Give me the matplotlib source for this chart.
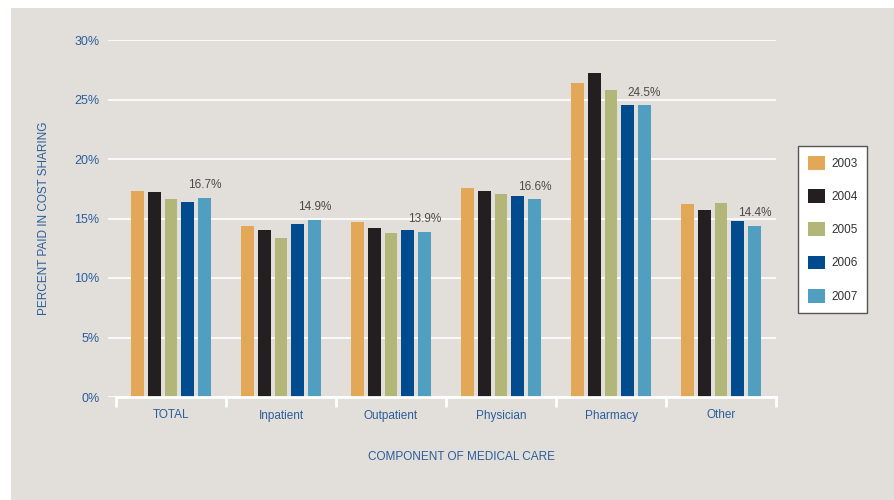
import numpy as np
import matplotlib.pyplot as plt
from matplotlib.patches import Patch, Rectangle

# cost sharing share by component and year (%)
components = ["TOTAL", "Inpatient", "Outpatient", "Physician", "Pharmacy", "Other"]
years = ["2003", "2004", "2005", "2006", "2007"]
v2003 = [17.3, 14.4, 14.7, 17.6, 26.4, 16.2]
v2004 = [17.2, 14.0, 14.2, 17.3, 27.2, 15.7]
v2005 = [16.6, 13.4, 13.8, 17.05, 25.8, 16.3]
v2006 = [16.4, 14.5, 14.0, 16.9, 24.5, 14.8]
v2007 = [16.7, 14.9, 13.9, 16.6, 24.5, 14.4]
series = [v2003, v2004, v2005, v2006, v2007]
colors = ["#E3A857", "#231F20", "#B2B679", "#004B8D", "#519FC0"]

plt.rcParams['font.family'] = ['Liberation Sans', 'DejaVu Sans']
blue_txt = "#2B5D9B"
bg = "#E2DFDB"

fig = plt.figure(figsize=(8.94, 5.0), dpi=100)
fig.patch.set_facecolor("white")
fig.patches.append(Rectangle((11 / 894, 0), 1, 1 - 8 / 500, transform=fig.transFigure,
                             facecolor=bg, edgecolor="none", zorder=-10))

ax = fig.add_axes([108 / 894, 103 / 500, 668 / 894, 357 / 500])
ax.set_facecolor("none")

x = np.arange(len(components))
step = 0.152
width = 0.114
for i, (vals, c) in enumerate(zip(series, colors)):
    ax.bar(x + (i - 2) * step, vals, width, color=c, zorder=3)

# value labels above the 2007 bars
for xi, v in zip(x, v2007):
    ax.annotate(f"{v:.1f}%", (xi + 2 * step, v), xytext=(0, 5), textcoords="offset points",
                ha="center", va="bottom", fontsize=8.5, color="#4A4A4A")

ax.set_xlim(-0.573, 5.5)
ax.set_ylim(0, 30)
ax.set_yticks(np.arange(0, 31, 5))
ax.set_yticklabels([f"{t}%" for t in range(0, 31, 5)])
ax.grid(axis="y", color="white", linewidth=1.2, zorder=0)
ax.set_axisbelow(True)

for s in ["top", "right", "left"]:
    ax.spines[s].set_visible(False)
ax.spines["bottom"].set_color("white")
ax.spines["bottom"].set_linewidth(2)
ax.spines["bottom"].set_bounds(-0.5, 5.5)
ax.spines["bottom"].set_zorder(4)

ax.set_xticks(x)
ax.set_xticklabels(components)
ax.set_xticks(np.arange(-0.5, 6, 1), minor=True)
ax.tick_params(axis="x", which="major", length=0, pad=9, labelsize=8.5, labelcolor=blue_txt)
ax.tick_params(axis="x", which="minor", length=7.5, width=2, color="white", direction="out")
ax.tick_params(axis="y", length=0, pad=6, labelsize=9, labelcolor=blue_txt)

fig.text(44 / 894, 1 - 218 / 500, "PERCENT PAID IN COST SHARING", rotation=90,
         ha="center", va="center", fontsize=8.5, color=blue_txt)
fig.text(462 / 894, 1 - 457 / 500, "COMPONENT OF MEDICAL CARE",
         ha="center", va="center", fontsize=8.5, color=blue_txt)

handles = [Patch(facecolor=c, edgecolor="none") for c in colors]
leg = fig.legend(handles, years, loc="upper left", bbox_to_anchor=(798 / 894, 1 - 146 / 500),
                 frameon=True, fancybox=False, framealpha=1, fontsize=8.5, handlelength=1.4,
                 handleheight=1.4, labelspacing=1.65, handletextpad=0.55, borderpad=0.85,
                 borderaxespad=0)
leg.get_frame().set_edgecolor("#555555")
leg.get_frame().set_linewidth(1)
leg.get_frame().set_facecolor("white")
for t in leg.get_texts():
    t.set_color("#333333")

fig.savefig("out.png", dpi=100)
